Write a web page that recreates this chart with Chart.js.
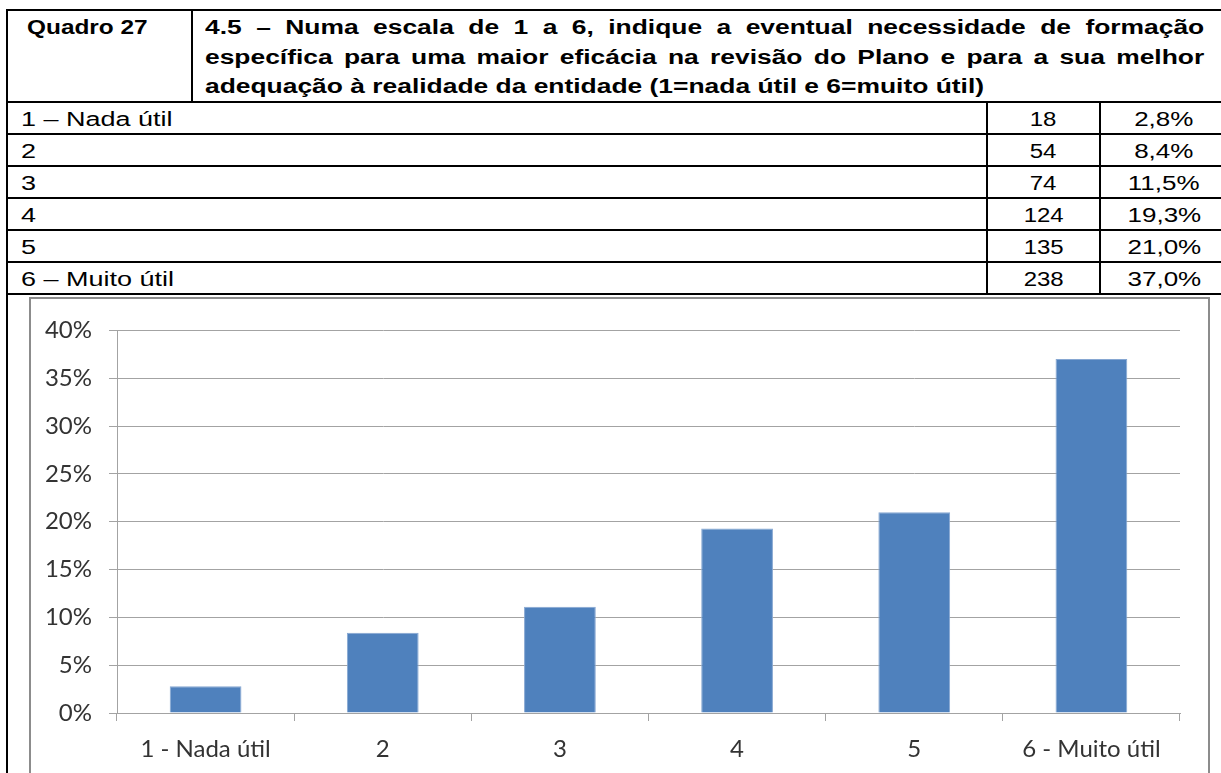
<!DOCTYPE html>
<html>
<head>
<meta charset="utf-8">
<script src="https://cdn.jsdelivr.net/npm/chart.js@4.4.1/dist/chart.umd.min.js"></script>
<style>
  html, body { margin:0; padding:0; background:#fff; }
  body { width:1221px; height:773px; overflow:hidden; position:relative; font-family:"Liberation Sans", Arial, sans-serif; color:#000; }
  .ln { position:absolute; background:#000; }
  .txt { position:absolute; font-size:20px; white-space:nowrap; }
  .sx { display:inline-block; }
  .left .sx { transform-origin:left center; }
  .center { text-align:center; }
  .center .sx { transform-origin:center center; }
  .hdr { position:absolute; left:205px; top:13px; width:757px; font-weight:bold; font-size:20px; line-height:29.5px; transform:scaleX(1.32); transform-origin:left top; }
  .hdr div { white-space:nowrap; }
  .hdr .j { text-align:justify; text-align-last:justify; }
  #frame { position:absolute; left:29px; top:297px; width:1177px; height:500px; border:2px solid #8c8c8c; border-bottom:none; }
  #wrap { position:absolute; left:31px; top:299px; width:1176px; height:474px; }
</style>
</head>
<body>
<div id="table"></div>
<div id="frame"></div>
<div id="wrap"><canvas id="c"></canvas></div>
<script>
// ---- data ----
const tableNumber = "Quadro 27";
const questionLines = [
  "4.5 – Numa escala de 1 a 6, indique a eventual necessidade de formação",
  "específica para uma maior eficácia na revisão do Plano e para a sua melhor",
  "adequação à realidade da entidade (1=nada útil e 6=muito útil)"
];
const rowLabels = ["1 – Nada útil", "2", "3", "4", "5", "6 – Muito útil"];
const counts = [18, 54, 74, 124, 135, 238];
const percentLabels = ["2,8%", "8,4%", "11,5%", "19,3%", "21,0%", "37,0%"];
const categories = ["1 - Nada útil", "2", "3", "4", "5", "6 - Muito útil"];
const percentValues = [2.8, 8.4, 11.1, 19.3, 21.0, 37.0];

// ---- table (HTML) ----
const T = document.getElementById('table');
function add(html){ T.insertAdjacentHTML('beforeend', html); }
add('<div class="ln" style="left:6px;top:9px;width:1220px;height:2px"></div>');
add('<div class="ln" style="left:6px;top:9px;width:2px;height:780px"></div>');
add('<div class="ln" style="left:191px;top:9px;width:2px;height:93px"></div>');
const rowTop = 101, rowH = 32;
for (let i = 0; i <= rowLabels.length; i++) {
  add('<div class="ln" style="left:6px;top:' + (rowTop + i*rowH) + 'px;width:1220px;height:2px"></div>');
}
add('<div class="ln" style="left:986px;top:' + rowTop + 'px;width:2px;height:' + (rowLabels.length*rowH) + 'px"></div>');
add('<div class="ln" style="left:1099px;top:' + rowTop + 'px;width:2px;height:' + (rowLabels.length*rowH) + 'px"></div>');
add('<div class="txt left" style="left:27px;top:13px;line-height:29.5px;font-weight:bold"><span class="sx" style="transform:scaleX(1.22)">' + tableNumber + '</span></div>');
add('<div class="hdr">' + questionLines.map((l, i) => '<div class="' + (i < questionLines.length - 1 ? 'j' : '') + '">' + l + '</div>').join('') + '</div>');
rowLabels.forEach((lab, i) => {
  const top = rowTop + 2 + i*rowH + 1;
  add('<div class="txt left" style="left:21px;top:' + top + 'px;line-height:30px"><span class="sx" style="transform:scaleX(1.35)">' + lab + '</span></div>');
  add('<div class="txt center" style="left:988px;width:111px;top:' + top + 'px;line-height:30px"><span class="sx" style="transform:scaleX(1.2)">' + counts[i] + '</span></div>');
  add('<div class="txt center" style="left:1101px;width:126px;top:' + top + 'px;line-height:30px"><span class="sx" style="transform:scaleX(1.3)">' + percentLabels[i] + '</span></div>');
});

// ---- chart ----
const gridColor = '#a3a3a3';
const labelFont = { family: 'Lato', size: 24 };
new Chart(document.getElementById('c'), {
  type: 'bar',
  data: {
    labels: categories,
    datasets: [{
      data: percentValues,
      backgroundColor: '#4f81bd',
      borderColor: '#86a7d2',
      borderWidth: 1,
      barPercentage: 0.405,
      categoryPercentage: 1.0
    }]
  },
  options: {
    responsive: true,
    maintainAspectRatio: false,
    animation: false,
    layout: { padding: { top: 27, right: 27, left: 0, bottom: 0 } },
    plugins: { legend: { display: false }, tooltip: { enabled: false } },
    scales: {
      x: {
        grid: { display: true, drawOnChartArea: false, drawTicks: true, tickLength: 8, color: gridColor, offset: true },
        border: { display: true, color: gridColor },
        ticks: { font: labelFont, color: '#333', padding: 14, maxRotation: 0, autoSkip: false },
        afterFit: (s) => { s.height = 60; }
      },
      y: {
        min: 0, max: 40,
        grid: { color: gridColor, tickLength: 8 },
        border: { display: true, color: gridColor },
        ticks: { stepSize: 5, font: labelFont, color: '#333', padding: 17, callback: (v) => v + '%' },
        afterFit: (s) => { s.width = 86; }
      }
    }
  }
});
</script>
</body>
</html>
